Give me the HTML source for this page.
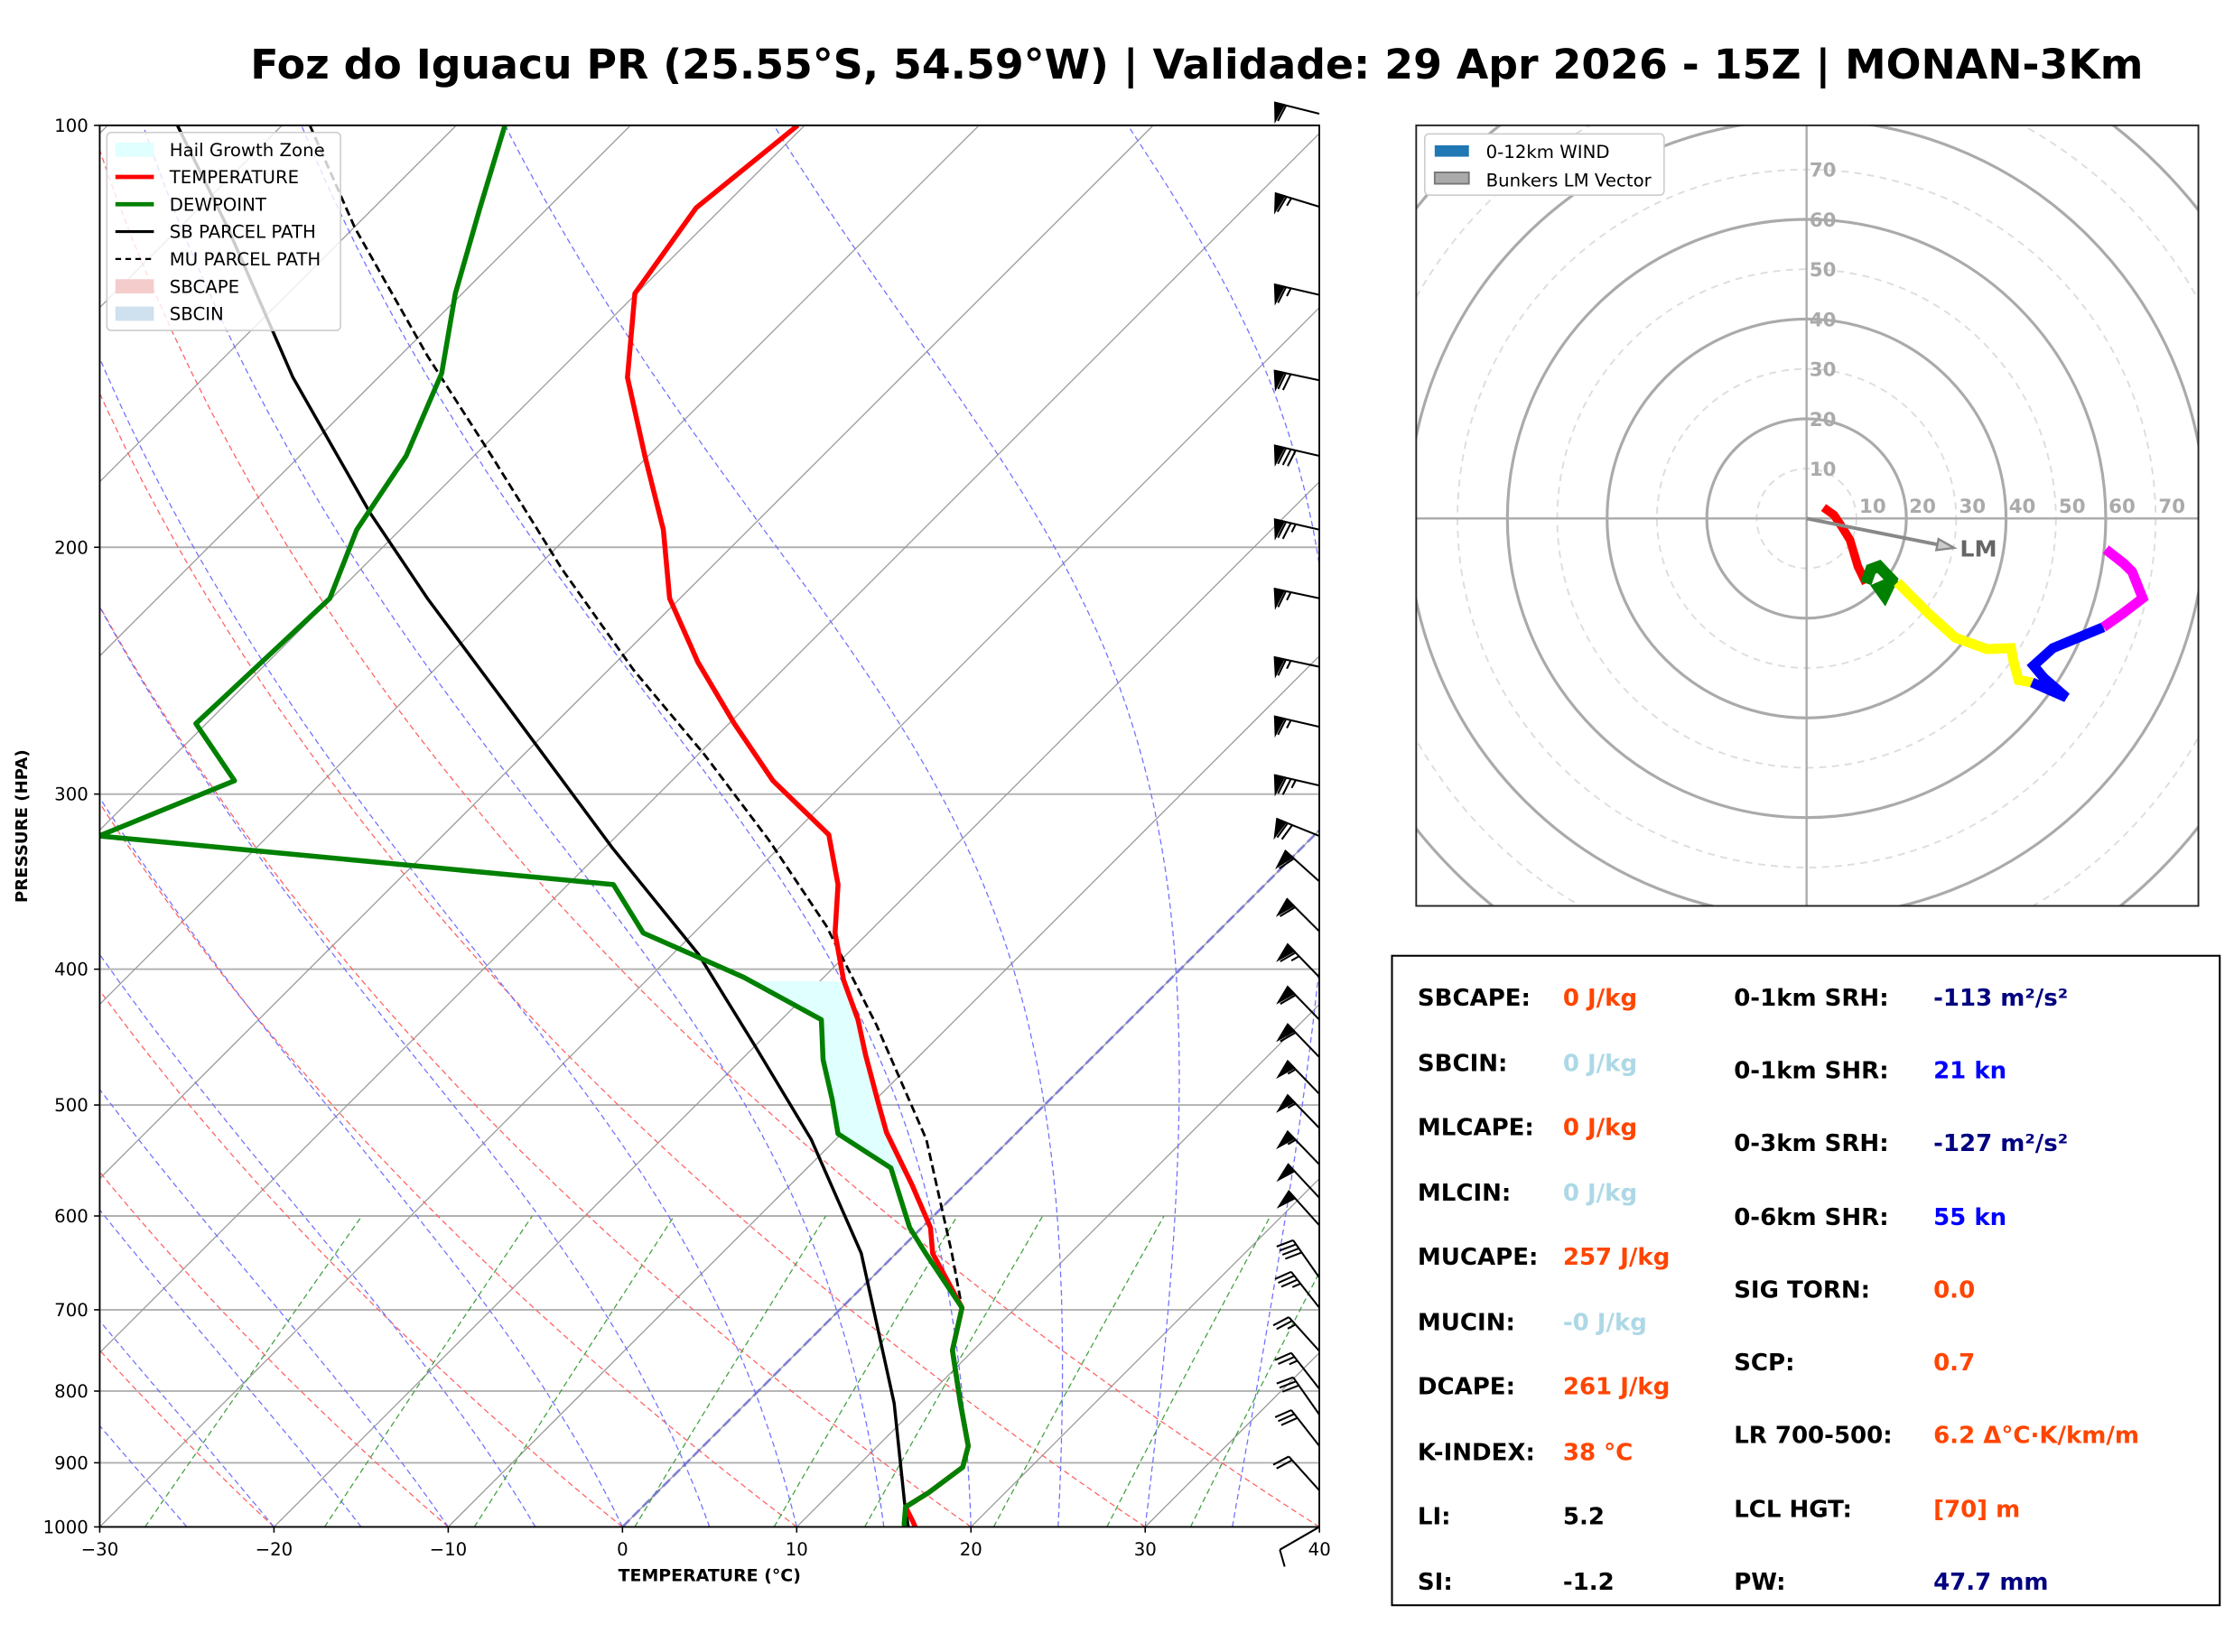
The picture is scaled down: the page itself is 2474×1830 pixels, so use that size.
<!DOCTYPE html>
<html><head><meta charset="utf-8">
<style>
html,body{margin:0;padding:0;background:#fff;}
svg{display:block;font-family:"DejaVu Sans","Liberation Sans",sans-serif;}
</style></head>
<body>
<svg id="fig" width="2474" height="1830" viewBox="0 0 1568 1159.8" xmlns="http://www.w3.org/2000/svg">
<rect x="0" y="0" width="1568" height="1160" fill="#fff"/>
<text x="840" y="55" text-anchor="middle" font-size="29" font-weight="bold">Foz do Iguacu PR (25.55°S, 54.59°W) | Validade: 29 Apr 2026 - 15Z | MONAN-3Km</text>
<defs><clipPath id="plotclip"><rect x="70" y="88" width="856" height="984"/></clipPath>
<clipPath id="hodoclip"><rect x="994" y="88" width="549" height="548"/></clipPath></defs>
<g id="skew"></g>
<g id="hodo"></g>
<g>
<rect x="977" y="671" width="581" height="456" fill="none" stroke="#000" stroke-width="1.3"/>
<g font-size="16.5" font-weight="bold">
<text x="995" y="706">SBCAPE:</text><text x="1097" y="706" fill="#ff4500">0 J/kg</text>
<text x="995" y="752">SBCIN:</text><text x="1097" y="752" fill="#add8e6">0 J/kg</text>
<text x="995" y="797">MLCAPE:</text><text x="1097" y="797" fill="#ff4500">0 J/kg</text>
<text x="995" y="843">MLCIN:</text><text x="1097" y="843" fill="#add8e6">0 J/kg</text>
<text x="995" y="888">MUCAPE:</text><text x="1097" y="888" fill="#ff4500">257 J/kg</text>
<text x="995" y="934">MUCIN:</text><text x="1097" y="934" fill="#add8e6">-0 J/kg</text>
<text x="995" y="979">DCAPE:</text><text x="1097" y="979" fill="#ff4500">261 J/kg</text>
<text x="995" y="1025">K-INDEX:</text><text x="1097" y="1025" fill="#ff4500">38 °C</text>
<text x="995" y="1070">LI:</text><text x="1097" y="1070" fill="#000">5.2</text>
<text x="995" y="1116">SI:</text><text x="1097" y="1116" fill="#000">-1.2</text>
<text x="1217" y="706">0-1km SRH:</text><text x="1357" y="706" fill="#000080">-113 m²/s²</text>
<text x="1217" y="757">0-1km SHR:</text><text x="1357" y="757" fill="#0000ff">21 kn</text>
<text x="1217" y="808">0-3km SRH:</text><text x="1357" y="808" fill="#000080">-127 m²/s²</text>
<text x="1217" y="860">0-6km SHR:</text><text x="1357" y="860" fill="#0000ff">55 kn</text>
<text x="1217" y="911">SIG TORN:</text><text x="1357" y="911" fill="#ff4500">0.0</text>
<text x="1217" y="962">SCP:</text><text x="1357" y="962" fill="#ff4500">0.7</text>
<text x="1217" y="1013">LR 700-500:</text><text x="1357" y="1013" fill="#ff4500">6.2 Δ°C·K/km/m</text>
<text x="1217" y="1065">LCL HGT:</text><text x="1357" y="1065" fill="#ff4500">[70] m</text>
<text x="1217" y="1116">PW:</text><text x="1357" y="1116" fill="#000080">47.7 mm</text>
</g></g>
</svg>
<script>
// ---- sounding data ----
const tempP = [100,114.5,131.8,151.3,172.1,194.3,217.5,241.6,267.2,293.5,320.7,348.1,376.9,407.2,434.6,459.9,499.0,523.0,570.3,611.6,638,697.6,748.2,816.2,875.5,906.7,945.4,967.8,992,1000];
const tempT = [-70.4,-71.5,-70.1,-65.7,-60.2,-54.9,-50.6,-45.3,-39.7,-34.2,-27.9,-24.5,-21.9,-18.7,-15.6,-13.2,-9.6,-7.5,-3.0,0.5,2.1,6.9,8.8,12.3,15.2,16.1,15.6,15.1,16.4,16.8];
const dewP = [100,114.5,131.8,150.3,172.1,194.3,217.5,267.2,293.5,321.4,348.1,376.9,405.3,434.6,464.2,495.5,524.2,554.5,611.6,638,697.6,748.2,816.2,875.5,906.7,945.4,967.8,995.4,1000];
const dewT = [-87.2,-83.9,-80.4,-76.6,-73.9,-72.5,-70.1,-70.6,-65.1,-69.7,-37.4,-32.9,-24.6,-17.7,-15.3,-12.5,-10.2,-5.2,-0.7,1.7,6.9,8.8,12.3,15.2,16.1,15.6,15.1,16.0,16.2];
const sbP = [100,118.4,151.3,189.0,217.5,262.3,327.5,390.4,454.6,529.2,638,816.2,961.0,1000];
const sbT = [-106.0,-97.2,-84.9,-72.7,-64.5,-53.1,-39.6,-28.5,-19.9,-11.4,-2.0,8.5,14.8,16.4];
const muP = [100,118.4,146.1,172.1,207.5,244.5,281.3,323.7,372.6,438.7,529.2,638,697.6];
const muT = [-98.4,-89.9,-78.4,-69.0,-58.4,-48.6,-39.6,-31.0,-22.8,-14.2,-4.8,3.2,6.9];
const barbP = [98.1,114.3,132.1,152.0,172.1,194.3,217.5,243.4,268.6,295.8,321.4,346.3,375.9,405.3,434.6,462.2,491.0,519.3,551.3,582.3,609.2,663.9,697.6,749,797,831.5,875.5,941.7,1000];
const barbDir = [284,287,283,282,283,283,282,282,283,283,292,312,315,316,316,316,316,316,316,317,318,325,322,318,322,325,322,318,240];
const barbSpd = [60,65,65,70,80,75,65,65,65,75,70,60,60,65,60,60,55,55,55,50,50,40,35,25,25,30,30,20,10];
const pTicks = [100,200,300,400,500,600,700,800,900,1000];
const tTicks = [-30,-20,-10,0,10,20,30,40];
// hodograph (u,v in kn)
const hodoRedU=[3.4,5.5,7.1,8.7,9.5,10.3,11.9], hodoRedV=[2.2,0.7,-1.7,-4.3,-7.0,-9.6,-13.0];
const hodoGrnU=[11.9,12.9,14.5,17.1,15.6,14.5,18.2], hodoGrnV=[-13.0,-10.2,-9.6,-12.3,-15.4,-13.9,-12.3];
const hodoYelU=[18.2,24.6,29.8,36.2,41.0,41.5,42.5,45.2], hodoYelV=[-12.8,-19.2,-23.9,-26.2,-26.0,-28.7,-32.4,-32.9];
const hodoBluU=[45.2,52.1,47.6,45.5,49.4,59.5], hodoBluV=[-32.9,-35.9,-32.0,-29.5,-26.0,-21.8];
const hodoMagU=[59.5,63.2,67.4,65.3,63.7,60.0], hodoMagV=[-21.8,-19.2,-16.0,-10.7,-9.1,-6.2];
const lmU=29.6, lmV=-5.9;
const hodoRings=[10,20,30,40,50,60,70,80,90,100];

const NS='http://www.w3.org/2000/svg';
function mk(tag,attrs,parent){const e=document.createElementNS(NS,tag);for(const k in attrs)e.setAttribute(k,attrs[k]);parent.appendChild(e);return e;}
const X0=70,Y0=88,Y1=1072,PX=12.23;
function yP(p){return Y0+(Y1-Y0)*Math.log10(p/100);}
function xT(T,p){return X0+(T+30)*PX+(Y1-yP(p));}
function pathFrom(ps,ts){let d='';for(let i=0;i<ps.length;i++){d+=(i?'L':'M')+xT(ts[i],ps[i]).toFixed(1)+','+yP(ps[i]).toFixed(1);}return d;}

const sk=document.getElementById('skew');
const clipG=mk('g',{'clip-path':'url(#plotclip)'},sk);


for(const p of pTicks){const l=mk('line',{x1:X0,x2:926,y1:yP(p),y2:yP(p),stroke:'#b0b0b0','stroke-width':1.2},clipG);
}
for(let T=-140;T<=40;T+=10){const l=mk('line',{x1:xT(T,1000),y1:yP(1000),x2:xT(T,100),y2:yP(100),stroke:'#999','stroke-width':0.8},clipG);
}
for(let t0=-30;t0<=40;t0+=10){let d='';for(let p=1000;p>=100;p-=10){const T=(t0+273.15)*Math.pow(p/1000,0.2857)-273.15;d+=(p==1000?'M':'L')+xT(T,p).toFixed(1)+','+yP(p).toFixed(1);}
const e=mk('path',{d:d,fill:'none',stroke:'#ff6060','stroke-width':0.8,'stroke-dasharray':'4,2.5'},clipG);
}
function es(T){return 6.112*Math.exp(17.67*T/(T+243.5));}
for(let t0=-30;t0<=35;t0+=5){let T=t0+273.15;let d='M'+xT(t0,1000).toFixed(1)+','+yP(1000).toFixed(1);
for(let p=1000;p>100;p-=2){const e_=es(T-273.15);const rs=0.622*e_/(p-e_);const Rd=287,cp=1005,Lv=2.5e6;
const dTdp=(Rd*T+Lv*rs)/(p*(cp+Lv*Lv*rs*0.622/(Rd*T*T)));T-=dTdp*2;d+='L'+xT(T-273.15,p-2).toFixed(1)+','+yP(p-2).toFixed(1);}
const e=mk('path',{d:d,fill:'none',stroke:'#7070ff','stroke-width':0.8,'stroke-dasharray':'4,2.5'},clipG);
}
const mixTd=[-27.4,-17.1,-8.5,0.7,8.7,13.9,21.3,27.8,32.6];
for(const td of mixTd){const e1000=es(td);const w=0.622*e1000/(1000-e1000);let d='';
for(let p=1000;p>=600;p-=20){const e=w*p/(0.622+w);const l=Math.log(e/6.112);const T=243.5*l/(17.67-l);d+=(p==1000?'M':'L')+xT(T,p).toFixed(1)+','+yP(p).toFixed(1);}
const el=mk('path',{d:d,fill:'none',stroke:'#40a040','stroke-width':0.8,'stroke-dasharray':'4,2.5'},clipG);
}
const z=mk('line',{x1:xT(0,1000),y1:yP(1000),x2:xT(0,100),y2:yP(100),stroke:'#6a6ad8','stroke-width':1.8,'stroke-dasharray':'7,3',opacity:0.7},clipG);

function interp(ps,ts,p){for(let i=0;i<ps.length-1;i++){if(p>=ps[i]&&p<=ps[i+1]){const f=Math.log(p/ps[i])/Math.log(ps[i+1]/ps[i]);return ts[i]+f*(ts[i+1]-ts[i]);}}return ts[ts.length-1];}
{let up='',dn=[];for(let p=408;p<=560;p+=4){up+=(p==408?'M':'L')+xT(interp(tempP,tempT,p),p).toFixed(1)+','+yP(p).toFixed(1);dn.push(xT(interp(dewP,dewT,p),p).toFixed(1)+','+yP(p).toFixed(1));}
dn.reverse();const h=mk('path',{d:up+'L'+dn.join('L')+'Z',fill:'#e0ffff',stroke:'none'},clipG);
}
let e;
e=mk('path',{d:pathFrom(muP,muT),fill:'none',stroke:'#000','stroke-width':1.8,'stroke-dasharray':'6,3'},clipG);

e=mk('path',{d:pathFrom(sbP,sbT),fill:'none',stroke:'#000','stroke-width':2.2},clipG);

e=mk('path',{d:pathFrom(tempP,tempT),fill:'none',stroke:'#ff0000','stroke-width':3.5,'stroke-linejoin':'round'},clipG);

e=mk('path',{d:pathFrom(dewP,dewT),fill:'none',stroke:'#008000','stroke-width':3.5,'stroke-linejoin':'round'},clipG);

e=mk('rect',{x:X0,y:Y0,width:856,height:984,fill:'none',stroke:'#000','stroke-width':1.2},sk);

for(const p of pTicks){e=mk('text',{x:62,y:yP(p)+4.5,'text-anchor':'end','font-size':12.5},sk);e.textContent=p;

mk('line',{x1:66,x2:70,y1:yP(p),y2:yP(p),stroke:'#000'},sk);}
for(const t of tTicks){const x=X0+(t+30)*PX;e=mk('text',{x:x,y:1092,'text-anchor':'middle','font-size':12.5},sk);e.textContent=(t<0?'\u2212'+(-t):t);

mk('line',{x1:x,x2:x,y1:1072,y2:1076,stroke:'#000'},sk);}
e=mk('text',{x:498,y:1110,'text-anchor':'middle','font-size':12,'font-weight':'bold'},sk);e.textContent='TEMPERATURE (°C)';

e=mk('text',{x:19,y:580,'text-anchor':'middle','font-size':11.5,'font-weight':'bold',transform:'rotate(-90 19 580)'},sk);e.textContent='PRESSURE (HPA)';

function barb(bx,by,dir,spd){const g=mk('g',{stroke:'#000','stroke-width':1.3,fill:'#000'},sk);

const a=dir*Math.PI/180,sx=Math.sin(a),sy=-Math.cos(a),nx=sy,ny=-sx,L=32,H=12,W=6.5;
const ex=bx+sx*L,ey=by+sy*L;mk('line',{x1:bx,y1:by,x2:ex,y2:ey},g);
let s=Math.round(spd/5)*5,pos=0;
while(s>=50){const p0x=ex-sx*pos,p0y=ey-sy*pos,p1x=ex-sx*(pos+W),p1y=ey-sy*(pos+W);
mk('polygon',{points:`${p0x},${p0y} ${p1x},${p1y} ${p0x-sx*W/2+nx*H},${p0y-sy*W/2+ny*H}`},g);pos+=W+1.5;s-=50;}
while(s>=10){const p0x=ex-sx*pos,p0y=ey-sy*pos;mk('line',{x1:p0x,y1:p0y,x2:p0x+nx*H+sx*3,y2:p0y+ny*H+sy*3},g);pos+=3.5;s-=10;}
if(s>=5){if(pos==0)pos=3.5;const p0x=ex-sx*pos,p0y=ey-sy*pos;mk('line',{x1:p0x,y1:p0y,x2:p0x+nx*H/2+sx*1.5,y2:p0y+ny*H/2+sy*1.5},g);}}
for(let i=0;i<barbP.length;i++){barb(926,yP(barbP[i]),barbDir[i],barbSpd[i]);}
{const lg=mk('g',{},sk);
mk('rect',{x:75,y:93,width:164,height:139,rx:3,fill:'#fff','fill-opacity':0.8,stroke:'#ccc'},lg);
const items=[['Hail Growth Zone','patch','#e0ffff'],['TEMPERATURE','line','#ff0000',3],['DEWPOINT','line','#008000',3],['SB PARCEL PATH','line','#000',2],['MU PARCEL PATH','dash','#000',1.5],['SBCAPE','patch','#f4cccc'],['SBCIN','patch','#cfe0ee']];
items.forEach((it,i)=>{const y=105+i*19.2;
if(it[1]=='patch')mk('rect',{x:81,y:y-5,width:27,height:10,fill:it[2]},lg);
else mk('line',{x1:81,x2:108,y1:y,y2:y,stroke:it[2],'stroke-width':it[3],'stroke-dasharray':it[1]=='dash'?'4,3':'none'},lg);
const t=mk('text',{x:119,y:y+4.5,'font-size':12.5},lg);t.textContent=it[0];});}

// ---- hodograph ----
const hd=document.getElementById('hodo');const CX=1268,CY=364,K=3.5;
const hc=mk('g',{'clip-path':'url(#hodoclip)'},hd);
for(const r of hodoRings){const c=mk('circle',{cx:CX,cy:CY,r:r*K,fill:'none',stroke:r%20==0?'#aaa':'#ddd','stroke-width':r%20==0?2:1.2,'stroke-dasharray':r%20==0?'none':'5,4'},hc);
}
mk('line',{x1:994,x2:1543,y1:CY,y2:CY,stroke:'#aaa','stroke-width':1.5},hc);
mk('line',{x1:CX,x2:CX,y1:88,y2:636,stroke:'#aaa','stroke-width':1.5},hc);
for(let r=10;r<=70;r+=10){let t=mk('text',{x:CX+r*K+2,y:CY-4,'font-size':13.5,'font-weight':'bold',fill:'#aaa'},hc);t.textContent=r;

t=mk('text',{x:CX+2,y:CY-r*K+5,'font-size':13.5,'font-weight':'bold',fill:'#aaa'},hc);t.textContent=r;
}
function hseg(us,vs,col,name,w){let d='';us.forEach((u,i)=>{d+=(i?'L':'M')+(CX+u*K).toFixed(1)+','+(CY-vs[i]*K).toFixed(1);});
const p=mk('path',{d:d,fill:'none',stroke:col,'stroke-width':w,'stroke-linejoin':'miter'},hc);}
hseg(hodoRedU,hodoRedV,'#ff0000','hodograph-0-1km',6);
hseg(hodoGrnU,hodoGrnV,'#008000','hodograph-1-3km',8);
hseg(hodoYelU,hodoYelV,'#ffff00','hodograph-3-6km',7);
hseg(hodoBluU,hodoBluV,'#0000ff','hodograph-6-9km',7);
hseg(hodoMagU,hodoMagV,'#ff00ff','hodograph-9-12km',7);
{const ex=CX+lmU*K,ey=CY-lmV*K;const ang=Math.atan2(ey-CY,ex-CX);const l=mk('line',{x1:CX,y1:CY,x2:ex-Math.cos(ang)*10,y2:ey-Math.sin(ang)*10,stroke:'#888','stroke-width':2.5},hc);

const ca=Math.cos(ang),sa=Math.sin(ang);mk('polygon',{points:`${ex},${ey} ${ex-12*ca+4*sa},${ey-12*sa-4*ca} ${ex-12*ca-4*sa},${ey-12*sa+4*ca}`,fill:'#ccc',stroke:'#888','stroke-width':1.5},hc);
const t=mk('text',{x:ex+4,y:ey+6,'font-size':16,'font-weight':'bold',fill:'#666'},hc);t.textContent='LM';}
mk('rect',{x:994,y:88,width:549,height:548,fill:'none',stroke:'#222','stroke-width':1.2},hd);
{const lg=mk('g',{},hd);
mk('rect',{x:1000,y:94,width:168,height:43,rx:3,fill:'#fff',stroke:'#ccc'},lg);
mk('rect',{x:1007,y:102,width:24,height:8,fill:'#1f77b4'},lg);
mk('rect',{x:1007,y:121,width:24,height:8,fill:'#aaa',stroke:'#777','stroke-width':1.2},lg);
let t=mk('text',{x:1043,y:111,'font-size':12.5},lg);t.textContent='0-12km WIND';
t=mk('text',{x:1043,y:131,'font-size':12.5},lg);t.textContent='Bunkers LM Vector';}
</script>
</body></html>
